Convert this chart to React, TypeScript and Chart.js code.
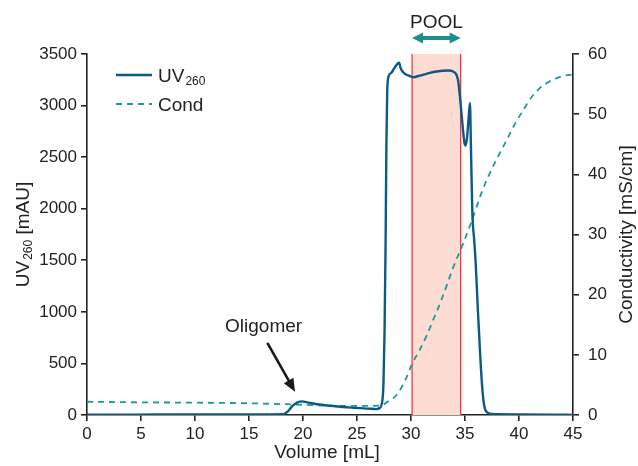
import React, { useEffect, useRef } from "react";
import { Chart, registerables } from "chart.js";

Chart.register(...registerables);

// ---- Data ----
const uvVolume = [0, 3, 6.5, 10, 15, 18.2, 18.6, 19.0, 19.5, 19.9, 20.5, 21.5, 23, 24.5, 26, 26.8, 27.1, 27.3, 27.45, 27.55, 27.65, 27.72, 27.8, 27.95, 28.2, 28.5, 28.75, 28.9, 29.05, 29.4, 29.8, 30.2, 30.8, 31.5, 32.2, 32.9, 33.5, 33.9, 34.15, 34.35, 34.5, 34.65, 34.8, 34.95, 35.06, 35.2, 35.35, 35.46, 35.55, 35.68, 35.85, 36.0, 36.2, 36.4, 36.55, 36.7, 36.85, 37.1, 37.5, 40, 43, 45];
const uvValues = [2, 3, 5, 6, 6, 8, 35, 85, 122, 132, 120, 102, 85, 72, 62, 57, 68, 110, 300, 800, 1700, 2600, 3150, 3290, 3320, 3370, 3405, 3416, 3360, 3310, 3290, 3275, 3290, 3310, 3328, 3338, 3340, 3330, 3310, 3250, 3120, 2950, 2780, 2640, 2613, 2700, 2900, 3024, 2600, 1958, 1700, 1450, 1000, 600, 330, 150, 60, 22, 10, 6, 4, 1];

const condVolume = [0, 5, 10, 15, 20, 22, 25, 27, 27.5, 27.9, 28.7, 29.6, 30.1, 30.8, 31.45, 32.1, 32.7, 33.3, 33.9, 34.85, 35.77, 36.5, 37.3, 38.1, 38.86, 39.6, 40.4, 41.1, 41.9, 42.7, 43.5, 44.2, 45];
const condValues = [2.2, 2.1, 2.05, 1.95, 1.7, 1.55, 1.5, 1.55, 1.8, 2.3, 3.4, 6.3, 8.5, 10.8, 13.2, 16, 18.6, 21.5, 24.5, 28.6, 33.0, 36.8, 40.2, 43.1, 45.7, 48.3, 50.7, 52.7, 54.3, 55.3, 56.0, 56.4, 56.6];

const xTicks = [0, 5, 10, 15, 20, 25, 30, 35, 40, 45];
const uvTicks = [0, 500, 1000, 1500, 2000, 2500, 3000, 3500];
const condTicks = [0, 10, 20, 30, 40, 50, 60];

const poolRange = [30.1, 34.6];
const oligomerLabel = { x: 16.35, y: 860 };
const oligomerArrowFrom = { x: 16.7, y: 700 };
const oligomerArrowTo = { x: 19.26, y: 225 };

// ---- Styles ----
const UV_COLOR = "#0b5a86";
const COND_COLOR = "#1c9a9a";
const TEXT_COLOR = "#222222";
const FONT = "'Liberation Sans', Arial, sans-serif";

const annotationPlugin = {
  id: "annotations",
  beforeDatasetsDraw(chart: any) {
    const { ctx, chartArea, scales } = chart;
    const x = scales.x;
    const x0 = x.getPixelForValue(poolRange[0]);
    const x1 = x.getPixelForValue(poolRange[1]);
    ctx.save();
    ctx.fillStyle = "#fcdcd3";
    ctx.fillRect(x0, chartArea.top, x1 - x0, chartArea.bottom - chartArea.top);
    ctx.strokeStyle = "#f42a2a";
    ctx.lineWidth = 1.2;
    ctx.beginPath();
    ctx.moveTo(x0, chartArea.top);
    ctx.lineTo(x0, chartArea.bottom);
    ctx.moveTo(x1, chartArea.top);
    ctx.lineTo(x1, chartArea.bottom);
    ctx.stroke();
    ctx.restore();
  },
  afterDraw(chart: any) {
    const { ctx, chartArea, scales } = chart;
    const x = scales.x;
    const y = scales.y;
    const x0 = x.getPixelForValue(poolRange[0]);
    const x1 = x.getPixelForValue(poolRange[1]);
    const midX = (x0 + x1) / 2;
    ctx.save();
    ctx.fillStyle = TEXT_COLOR;
    ctx.textAlign = "center";
    ctx.textBaseline = "middle";
    ctx.font = `19px ${FONT}`;
    ctx.fillText("POOL", midX, chartArea.top - 31);

    // double arrow
    const ay = chartArea.top - 16;
    const head = 11;
    ctx.fillStyle = "#1a8f8c";
    ctx.strokeStyle = "#1a8f8c";
    ctx.lineWidth = 4;
    ctx.beginPath();
    ctx.moveTo(x0 + head - 2, ay);
    ctx.lineTo(x1 - head + 2, ay);
    ctx.stroke();
    ctx.beginPath();
    ctx.moveTo(x0, ay);
    ctx.lineTo(x0 + head, ay - 5.5);
    ctx.lineTo(x0 + head, ay + 5.5);
    ctx.closePath();
    ctx.fill();
    ctx.beginPath();
    ctx.moveTo(x1, ay);
    ctx.lineTo(x1 - head, ay - 5.5);
    ctx.lineTo(x1 - head, ay + 5.5);
    ctx.closePath();
    ctx.fill();

    // Oligomer annotation
    ctx.fillStyle = TEXT_COLOR;
    ctx.font = `19px ${FONT}`;
    ctx.fillText("Oligomer", x.getPixelForValue(oligomerLabel.x), y.getPixelForValue(oligomerLabel.y));
    const fx = x.getPixelForValue(oligomerArrowFrom.x);
    const fy = y.getPixelForValue(oligomerArrowFrom.y);
    const tx = x.getPixelForValue(oligomerArrowTo.x);
    const ty = y.getPixelForValue(oligomerArrowTo.y);
    const ang = Math.atan2(ty - fy, tx - fx);
    const hl = 13;
    const hw = 5.5;
    const bx = tx - hl * Math.cos(ang);
    const by = ty - hl * Math.sin(ang);
    ctx.strokeStyle = "#1a1a1a";
    ctx.fillStyle = "#1a1a1a";
    ctx.lineWidth = 2.6;
    ctx.beginPath();
    ctx.moveTo(fx, fy);
    ctx.lineTo(bx + 2 * Math.cos(ang), by + 2 * Math.sin(ang));
    ctx.stroke();
    ctx.beginPath();
    ctx.moveTo(tx, ty);
    ctx.lineTo(bx - hw * Math.sin(ang), by + hw * Math.cos(ang));
    ctx.lineTo(bx + hw * Math.sin(ang), by - hw * Math.cos(ang));
    ctx.closePath();
    ctx.fill();

    // Legend
    ctx.lineWidth = 2.4;
    ctx.strokeStyle = UV_COLOR;
    ctx.setLineDash([]);
    ctx.beginPath();
    ctx.moveTo(116, 75);
    ctx.lineTo(152, 75);
    ctx.stroke();
    ctx.strokeStyle = COND_COLOR;
    ctx.lineWidth = 1.8;
    ctx.setLineDash([6, 5]);
    ctx.beginPath();
    ctx.moveTo(116, 104);
    ctx.lineTo(152, 104);
    ctx.stroke();
    ctx.setLineDash([]);
    ctx.fillStyle = TEXT_COLOR;
    ctx.textAlign = "left";
    ctx.textBaseline = "alphabetic";
    ctx.font = `19px ${FONT}`;
    ctx.fillText("UV", 158, 82);
    const uvW = ctx.measureText("UV").width;
    ctx.font = `12px ${FONT}`;
    ctx.fillText("260", 158 + uvW + 1, 85);
    ctx.font = `19px ${FONT}`;
    ctx.fillText("Cond", 158, 111);

    // Axis titles
    ctx.textBaseline = "middle";
    ctx.textAlign = "center";
    ctx.font = `19px ${FONT}`;
    ctx.fillText("Volume [mL]", (chartArea.left + chartArea.right) / 2 - 3, 453);

    const midY = (chartArea.top + chartArea.bottom) / 2;
    // left title with subscript
    ctx.save();
    ctx.translate(22, midY);
    ctx.rotate(-Math.PI / 2);
    ctx.textAlign = "left";
    ctx.textBaseline = "alphabetic";
    ctx.font = `19px ${FONT}`;
    const wUV = ctx.measureText("UV").width;
    const wRest = ctx.measureText(" [mAU]").width;
    ctx.font = `12px ${FONT}`;
    const wSub = ctx.measureText("260").width;
    const total = wUV + wSub + 1 + wRest;
    let cx = -total / 2;
    ctx.font = `19px ${FONT}`;
    ctx.fillText("UV", cx, 7);
    cx += wUV + 1;
    ctx.font = `12px ${FONT}`;
    ctx.fillText("260", cx, 10);
    cx += wSub;
    ctx.font = `19px ${FONT}`;
    ctx.fillText(" [mAU]", cx, 7);
    ctx.restore();

    ctx.save();
    ctx.translate(627, midY);
    ctx.rotate(-Math.PI / 2);
    ctx.textAlign = "center";
    ctx.textBaseline = "middle";
    ctx.font = `19px ${FONT}`;
    ctx.fillText("Conductivity [mS/cm]", 0, 0);
    ctx.restore();

    ctx.restore();
  },
};

export default function App() {
  const canvasRef = useRef<HTMLCanvasElement | null>(null);

  useEffect(() => {
    document.body.style.margin = "0";
    const canvas = canvasRef.current;
    if (!canvas) return;
    const uvData = uvVolume.map((v, i) => ({ x: v, y: uvValues[i] }));
    const condData = condVolume.map((v, i) => ({ x: v, y: condValues[i] }));

    const axisCommon = {
      border: { display: true, color: "#222", width: 1.6 },
      grid: { drawOnChartArea: false, drawTicks: true, tickLength: 6, color: "#222", lineWidth: 1.6 },
    };
    const plain = (v: any) => String(v);

    const chart = new Chart(canvas, {
      type: "line",
      data: {
        datasets: [
          {
            label: "UV260",
            data: uvData,
            borderColor: UV_COLOR,
            borderWidth: 2.4,
            pointRadius: 0,
            cubicInterpolationMode: "monotone",
            yAxisID: "y",
            fill: false,
          },
          {
            label: "Cond",
            data: condData,
            borderColor: COND_COLOR,
            borderWidth: 1.8,
            borderDash: [6, 5],
            pointRadius: 0,
            cubicInterpolationMode: "monotone",
            yAxisID: "y1",
            fill: false,
          },
        ],
      },
      options: {
        animation: false,
        responsive: false,
        devicePixelRatio: 1,
        layout: { padding: { top: 54, left: 0, right: 0, bottom: 0 } },
        plugins: { legend: { display: false }, tooltip: { enabled: false } },
        scales: {
          x: {
            type: "linear",
            min: 0,
            max: 45,
            ...axisCommon,
            afterBuildTicks: (s: any) => {
              s.ticks = xTicks.map((v) => ({ value: v }));
            },
            afterFit: (s: any) => {
              s.height = 51;
            },
            ticks: { color: TEXT_COLOR, font: { family: FONT, size: 17 }, padding: 3, maxRotation: 0, callback: plain },
          },
          y: {
            type: "linear",
            position: "left",
            min: 0,
            max: 3500,
            ...axisCommon,
            afterBuildTicks: (s: any) => {
              s.ticks = uvTicks.map((v) => ({ value: v }));
            },
            afterFit: (s: any) => {
              s.width = 87;
            },
            ticks: { color: TEXT_COLOR, font: { family: FONT, size: 17 }, padding: 4, callback: plain },
          },
          y1: {
            type: "linear",
            position: "right",
            min: 0,
            max: 60,
            ...axisCommon,
            afterBuildTicks: (s: any) => {
              s.ticks = condTicks.map((v) => ({ value: v }));
            },
            afterFit: (s: any) => {
              s.width = 65;
            },
            ticks: { color: TEXT_COLOR, font: { family: FONT, size: 17 }, padding: 9, callback: plain },
          },
        },
      },
      plugins: [annotationPlugin],
    } as any);

    return () => chart.destroy();
  }, []);

  return (
    <div style={{ position: "absolute", left: 0, top: 0, width: 638, height: 466, background: "#fff" }}>
      <canvas ref={canvasRef} width={638} height={466} style={{ width: 638, height: 466 }} />
    </div>
  );
}
